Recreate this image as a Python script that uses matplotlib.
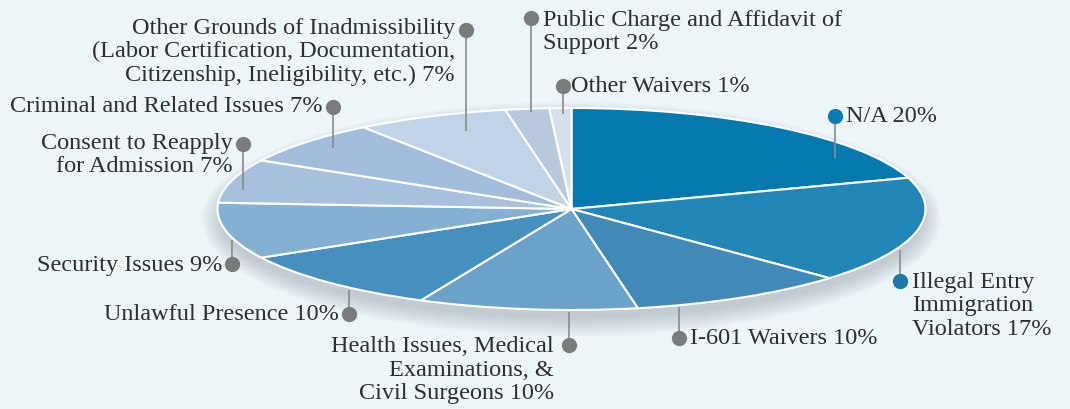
import matplotlib
matplotlib.use("Agg")
import matplotlib.pyplot as plt
from matplotlib.patches import Ellipse

# ---- data ----
categories = ["N/A", "Illegal Entry Immigration Violators", "I-601 Waivers",
              "Health Issues, Medical Examinations, & Civil Surgeons",
              "Unlawful Presence", "Security Issues", "Consent to Reapply for Admission",
              "Criminal and Related Issues",
              "Other Grounds of Inadmissibility (Labor Certification, Documentation, Citizenship, Ineligibility, etc.)",
              "Public Charge and Affidavit of Support", "Other Waivers"]
values = [20, 17, 10, 10, 10, 9, 7, 7, 7, 2, 1]
labels = ["N/A 20%",
          "Illegal Entry\nImmigration\nViolators 17%",
          "I-601 Waivers 10%",
          "Health Issues, Medical\nExaminations, &\nCivil Surgeons 10%",
          "Unlawful Presence 10%",
          "Security Issues 9%",
          "Consent to Reapply\nfor Admission 7%",
          "Criminal and Related Issues 7%",
          "Other Grounds of Inadmissibility\n(Labor Certification, Documentation,\nCitizenship, Ineligibility, etc.) 7%",
          "Public Charge and Affidavit of\nSupport 2%",
          "Other Waivers 1%"]
colors = ["#0679ae", "#2287b6", "#4189b6", "#6aa2c9", "#4690c0", "#84b0d3",
          "#a6c0de", "#a2bddb", "#c1d3e7", "#b9c9dd", "#d6e0ec"]

# ---- layout (pixels) ----
W, H = 1070, 409
cx, cy, rx, ry = 571.5, 209, 354, 101
BG = "#ecf5f8"

fig = plt.figure(figsize=(W / 100, H / 100), dpi=100, facecolor=BG)
ax = fig.add_axes([0, 0, 1, 1])
ax.set_facecolor(BG)

def P(x, y):
    return ((x - cx) / rx, (cy - y) / ry)

# shadow
for i in range(10):
    s = 0.99 + i * 0.006
    e = Ellipse((0, -0.10), 2 * s, 2 * (0.98 + i * 0.02), facecolor="#5f6f78",
                edgecolor="none", alpha=0.03, zorder=0)
    ax.add_patch(e)

ax.pie(values, colors=colors, startangle=90, counterclock=False, radius=1.0,
       wedgeprops=dict(edgecolor="white", linewidth=1.5, zorder=2))
ax.set_aspect("auto")
x0, y0 = P(0, H)
x1, y1 = P(W, 0)
ax.set_xlim(x0, x1)
ax.set_ylim(y0, y1)
ax.axis("off")

# annotations: dot(x,y), line end y, text anchor x, text align, text center y, dot color
ann = [
    ((835, 116), 158, 846, "left", 117, "#0b7db5"),
    ((900, 281), 250, 912, "left", 306, "#1c79a8"),
    ((679, 338), 307, 690, "left", 338, "#7a7b7d"),
    ((569, 345), 312, 554, "right", 370, "#7a7b7d"),
    ((349, 314), 290, 339, "right", 315, "#7a7b7d"),
    ((232, 264), 240, 222, "right", 265, "#7a7b7d"),
    ((243, 144), 190, 233, "right", 155, "#7a7b7d"),
    ((333, 107), 148, 322, "right", 107, "#7a7b7d"),
    ((466, 30), 131, 455, "right", 52, "#7a7b7d"),
    ((531, 18), 112, 543, "left", 32, "#7a7b7d"),
    ((563, 86), 114, 571, "left", 87, "#7a7b7d"),
]
for lab, (dot, ly, tx, ha, ty, dc) in zip(labels, ann):
    dx, dy = P(*dot)
    _, lyy = P(dot[0], ly)
    ax.plot([dx, dx], [dy, lyy], color="#8a8b8d", lw=1.2, zorder=4, solid_capstyle="butt")
    ax.plot([dx], [dy], "o", ms=11, color=dc, zorder=5, mec="none")
    tx_, ty_ = P(tx, ty)
    ax.text(tx_, ty_, lab, ha=ha, va="center", fontsize=17.5, color="#2e2e2e",
            family="Liberation Serif", linespacing=1.17, zorder=6, multialignment=ha)

fig.savefig("out.png", dpi=100, facecolor=BG)
